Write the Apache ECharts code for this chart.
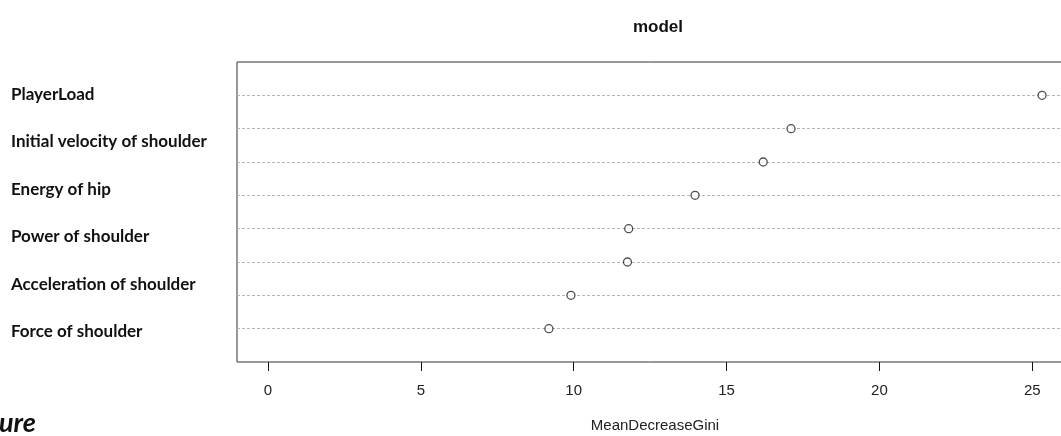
<!DOCTYPE html>
<html>
<head>
<meta charset="utf-8">
<script src="https://cdn.jsdelivr.net/npm/echarts@6/dist/echarts.min.js"></script>
<style>
  html, body { margin: 0; padding: 0; background: #fff; }
  #chart { width: 1061px; height: 436px; }
</style>
</head>
<body>
<div id="chart"></div>
<script>
// dotchart values, top row first
const rowRank = [1, 2, 3, 4, 5, 6, 7, 8]
const gini = [25.32, 17.11, 16.2, 13.97, 11.8, 11.76, 9.91, 9.19]
// labels typed beside the plot
const sideLabels = [
  'PlayerLoad',
  'Initial velocity of shoulder',
  'Energy of hip',
  'Power of shoulder',
  'Acceleration of shoulder',
  'Force of shoulder'
]
const xTicks = [0, 5, 10, 15, 20, 25]

const myChart = echarts.init(document.getElementById('chart'))

const xMax = Math.max(...gini)
const pad = xMax * 0.04 // R style axis range padding

const option = {
  animation: false,
  title: {
    text: 'model',
    left: 653,
    top: 14,
    textAlign: 'center',
    textStyle: {
      fontFamily: 'Liberation Sans',
      fontWeight: 'bold',
      fontSize: 17,
      color: '#111'
    }
  },
  graphic: [{
    type: 'text',
    left: -1,
    top: 410,
    style: {
      text: 'ure',
      font: 'italic bold 27px Lato',
      fill: '#111'
    }
  }],
  grid: [
    {
      left: 237,
      top: 62,
      width: 836,
      height: 300,
      outerBoundsMode: 'none',
      show: true,
      borderColor: '#333',
      borderWidth: 1
    },
    {
      left: 237,
      top: 70.5,
      width: 1,
      height: 285,
      outerBoundsMode: 'none'
    }
  ],
  xAxis: [
    {
      gridIndex: 0,
      type: 'value',
      min: -pad,
      max: xMax + pad,
      position: 'bottom',
      splitLine: { show: false },
      axisLine: { show: false, onZero: false },
      axisTick: {
        show: true,
        length: 9,
        customValues: xTicks,
        lineStyle: { color: '#111', width: 1 }
      },
      axisLabel: {
        customValues: xTicks,
        margin: 21,
        fontFamily: 'Liberation Sans',
        fontSize: 15,
        color: '#222'
      },
      name: 'MeanDecreaseGini',
      nameLocation: 'middle',
      nameGap: 56,
      nameTextStyle: {
        fontFamily: 'Liberation Sans',
        fontSize: 15,
        color: '#222'
      }
    },
    {
      gridIndex: 1,
      type: 'value',
      show: false
    }
  ],
  yAxis: [
    {
      gridIndex: 0,
      type: 'value',
      min: 0,
      max: rowRank.length + 1,
      interval: 1,
      inverse: true,
      axisLine: { show: false, onZero: false },
      axisTick: { show: false },
      axisLabel: { show: false },
      splitLine: {
        show: true,
        showMinLine: false,
        showMaxLine: false,
        lineStyle: { color: '#b5b5b5', type: [3, 2], width: 1 }
      }
    },
    {
      gridIndex: 1,
      type: 'category',
      data: sideLabels,
      inverse: true,
      axisLine: { show: false },
      axisTick: { show: false },
      splitLine: { show: false },
      axisLabel: {
        align: 'left',
        margin: 226,
        fontFamily: 'Lato',
        fontWeight: 'bold',
        fontSize: 17,
        color: '#111'
      }
    }
  ],
  series: [
    {
      type: 'scatter',
      xAxisIndex: 0,
      yAxisIndex: 0,
      data: gini.map((v, i) => [v, rowRank[i]]),
      symbol: 'circle',
      symbolSize: 8,
      itemStyle: {
        color: '#fff',
        borderColor: '#222',
        borderWidth: 1.3
      },
      z: 5
    }
  ]
}
myChart.setOption(option)
</script>
</body>
</html>
